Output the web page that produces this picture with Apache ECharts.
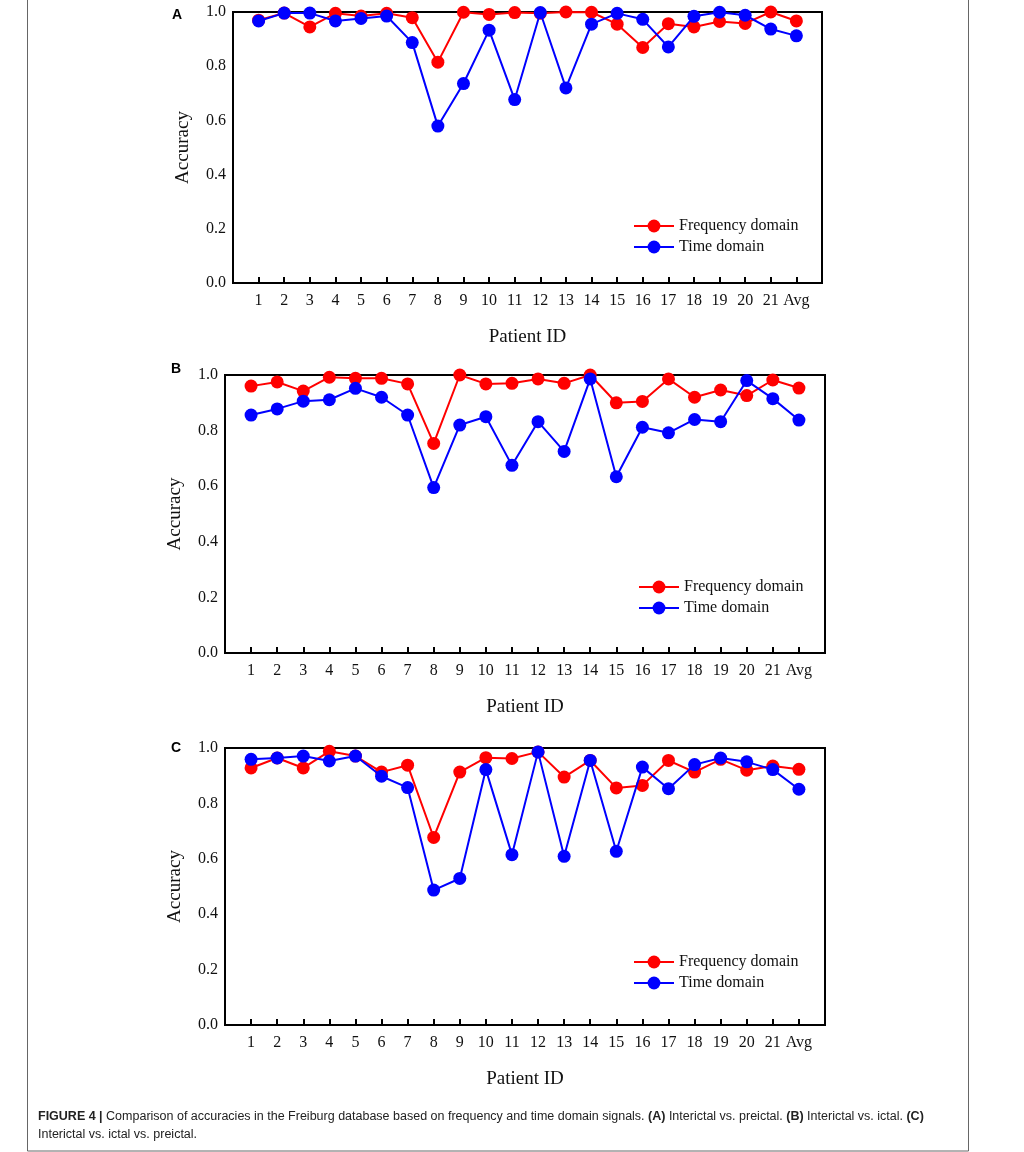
<!DOCTYPE html>
<html>
<head>
<meta charset="utf-8">
<script src="https://cdn.jsdelivr.net/npm/echarts@6/dist/echarts.min.js"></script>
<style>html,body{margin:0;padding:0;background:#fff;}#c{width:1024px;height:1152px;}</style>
</head>
<body>
<div id="c"></div>
<script>
var categories = ['1','2','3','4','5','6','7','8','9','10','11','12','13','14','15','16','17','18','19','20','21','Avg'];
var yTicks = ['0.0','0.2','0.4','0.6','0.8','1.0'];
var seriesNames = ['Frequency domain', 'Time domain'];

var freqA = [0.97,0.996,0.945,0.995,0.985,0.995,0.979,0.815,0.999,0.991,0.998,0.995,1.0,0.999,0.955,0.869,0.957,0.945,0.965,0.958,1.0,0.967];
var timeA = [0.967,0.996,0.996,0.967,0.976,0.985,0.887,0.579,0.736,0.933,0.677,0.998,0.72,0.955,0.995,0.973,0.871,0.984,0.999,0.988,0.937,0.912];

var freqB = [0.960,0.975,0.942,0.992,0.988,0.988,0.968,0.754,1.0,0.968,0.970,0.986,0.970,1.0,0.900,0.905,0.986,0.920,0.946,0.926,0.982,0.953];
var timeB = [0.856,0.878,0.906,0.911,0.952,0.920,0.856,0.595,0.820,0.850,0.675,0.832,0.725,0.986,0.634,0.812,0.792,0.840,0.832,0.980,0.915,0.838];

var freqC = [0.928,0.964,0.928,0.988,0.971,0.913,0.938,0.677,0.913,0.965,0.962,0.986,0.895,0.955,0.856,0.865,0.955,0.913,0.959,0.920,0.935,0.923];
var timeC = [0.959,0.964,0.971,0.953,0.971,0.898,0.857,0.487,0.529,0.922,0.615,0.986,0.609,0.955,0.627,0.931,0.853,0.940,0.964,0.950,0.922,0.851];

var panels = [
  {letter:'A', freq:freqA, time:timeA, grid:{left:233, right:202, top:12, height:271}, legend:{left:633, top:218}, accGap:40, letterPos:[172,8]},
  {letter:'B', freq:freqB, time:timeB, grid:{left:225, right:199, top:375, height:278}, legend:{left:638, top:579}, accGap:40, letterPos:[171,362]},
  {letter:'C', freq:freqC, time:timeC, grid:{left:225, right:199, top:748, height:277}, legend:{left:633, top:954}, accGap:40, letterPos:[171,741]}
];

var serif = 'Liberation Serif';
var grids = [], xAxes = [], yAxes = [], series = [], legends = [], graphics = [];

panels.forEach(function(p, i){
  grids.push(Object.assign({show:true, borderColor:'#000', borderWidth:2, backgroundColor:'#fff'}, p.grid));
  xAxes.push({
    type:'value', gridIndex:i, min:0, max:categories.length+1, interval:1,
    name:'Patient ID', nameLocation:'middle', nameGap:45,
    nameTextStyle:{fontFamily:serif, fontSize:19, color:'#111'},
    axisLine:{show:true, onZero:false, lineStyle:{color:'#000', width:2}},
    axisTick:{show:true, inside:true, length:6, lineStyle:{color:'#000', width:2}},
    axisLabel:{fontFamily:serif, fontSize:16, color:'#111', margin:10,
      formatter:function(v){ var k=Math.round(v); return (k>=1 && k<=categories.length) ? categories[k-1] : ''; }},
    splitLine:{show:false}
  });
  yAxes.push({
    type:'value', gridIndex:i, min:0, max:1, interval:0.2,
    name:'Accuracy', nameLocation:'middle', nameGap:p.accGap, nameRotate:90,
    nameTextStyle:{fontFamily:serif, fontSize:19, color:'#111'},
    axisLine:{show:true, lineStyle:{color:'#000', width:2}},
    axisTick:{show:false},
    axisLabel:{fontFamily:serif, fontSize:16, color:'#111', margin:7,
      formatter:function(v){ return yTicks[Math.round(v*5)]; }},
    splitLine:{show:false}
  });
  [[p.freq,'#ff0000'],[p.time,'#0000ff']].forEach(function(d, j){
    series.push({
      name:seriesNames[j], type:'line', xAxisIndex:i, yAxisIndex:i,
      data:d[0].map(function(v,k){ return [k+1, v]; }),
      symbol:'circle', symbolSize:13, showSymbol:true,
      lineStyle:{color:d[1], width:2}, itemStyle:{color:d[1]},
      z: 2+j, animation:false, clip:false
    });
  });
  legends.push({
    left:p.legend.left, top:p.legend.top, orient:'vertical', itemGap:5, padding:0,
    itemWidth:40, itemHeight:16, data:seriesNames, selectedMode:false,
    textStyle:{fontFamily:serif, fontSize:16, color:'#111'}
  });
  graphics.push({type:'text', left:p.letterPos[0], top:p.letterPos[1],
    style:{text:p.letter, font:'bold 14px "Liberation Sans", Arial', fill:'#000'}});
});

graphics.push({type:'rect', shape:{x:27.5, y:-5, width:941, height:1156}, style:{fill:'none', stroke:'#666', lineWidth:1}, z:-1});
graphics.push({type:'text', left:38, top:1108, style:{
  rich:{b:{fontFamily:'Liberation Sans', fontWeight:'bold', fontSize:12.5, fill:'#222'}, n:{fontFamily:'Liberation Sans', fontSize:12.5, fill:'#222'}},
  text:'{b|FIGURE 4 |}{n| Comparison of accuracies in the Freiburg database based on frequency and time domain signals. }{b|(A)}{n| Interictal vs. preictal. }{b|(B)}{n| Interictal vs. ictal. }{b|(C)}\n{n|Interictal vs. ictal vs. preictal.}',
  lineHeight:18
}});

var chart = echarts.init(document.getElementById('c'), null, {renderer:'canvas'});
chart.setOption({
  animation:false,
  backgroundColor:'#fff',
  grid:grids, xAxis:xAxes, yAxis:yAxes, series:series, legend:legends, graphic:graphics
});
</script>
</body>
</html>
